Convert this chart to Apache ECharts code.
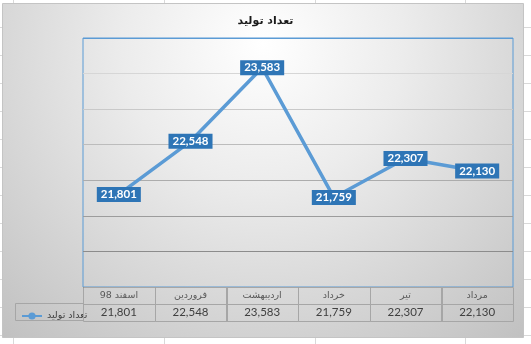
<!DOCTYPE html>
<html>
<head>
<meta charset="utf-8">
<script src="https://cdn.jsdelivr.net/npm/echarts@6/dist/echarts.min.js"></script>
<style>
html,body{margin:0;padding:0;background:#ffffff;}
#c{width:531px;height:344px;}
</style>
</head>
<body>
<div id="c"></div>
<script>
const chartTitle = 'تعداد تولید';
const seriesName = 'تعداد تولید';
const categories = ['اسفند 98', 'فروردین', 'اردیبهشت', 'خرداد', 'تیر', 'مرداد'];
const values = [21801, 22548, 23583, 21759, 22307, 22130];

const fmt = v => v.toLocaleString('en-US');
const numFont = 'Lato, "DejaVu Sans", sans-serif';
const arFont = '"DejaVu Sans", sans-serif';

// spreadsheet background lines (decorative)
const sheetLines = [];
[13, 164, 315, 465].forEach(x => sheetLines.push({type:'line', z:-20, shape:{x1:x+0.5,y1:0,x2:x+0.5,y2:344}, style:{stroke:'#d9d9d9', lineWidth:1}}));
for (let y = 27; y < 344; y += 28) sheetLines.push({type:'line', z:-20, shape:{x1:0,y1:y+0.5,x2:531,y2:y+0.5}, style:{stroke:'#d9d9d9', lineWidth:1}});

const chart = echarts.init(document.getElementById('c'), null, {renderer:'canvas'});
chart.setOption({
  animation: false,
  backgroundColor: 'transparent',
  title: {
    text: chartTitle, left: 'center', top: 11,
    textStyle: {fontFamily: arFont, fontSize: 11, fontWeight: 'bold', color: '#1a1a1a'}
  },
  legend: {
    left: 16, top: 306, itemWidth: 20, itemHeight: 9, itemGap: 4,
    data: [seriesName],
    textStyle: {fontFamily: arFont, fontSize: 9.5, color: '#404040'}
  },
  graphic: sheetLines.concat([
    {type:'rect', z:-10, shape:{x:2.5, y:3.5, width:521, height:334},
     style:{stroke:'#c4c4c4', lineWidth:1,
       fill:{type:'radial', x:0.5, y:0.12, r:1.2, colorStops:[
         {offset:0, color:'#ffffff'}, {offset:0.35, color:'#ececec'}, {offset:1, color:'#bfbfbf'}]}}},
    {type:'rect', z:5, shape:{x:15.5, y:303.5, width:68, height:17},
     style:{fill:'none', stroke:'#a6a6a6', lineWidth:1}}
  ]),
  grid: [
    {left: 83, top: 38, width: 430, height: 249, show: true, borderColor: '#5b9bd5', borderWidth: 1, backgroundColor: 'transparent'},
    {left: 83, top: 287, width: 430, height: 33}
  ],
  xAxis: [
    {type:'category', gridIndex:0, data: categories, boundaryGap: true,
     axisLine:{show:false}, axisTick:{show:false}, axisLabel:{show:false}, splitLine:{show:false}},
    {type:'category', gridIndex:1, data: categories, boundaryGap: true,
     axisLine:{show:false}, axisTick:{show:false}, axisLabel:{show:false}, splitLine:{show:false}}
  ],
  yAxis: [
    {type:'value', gridIndex:0, min: 20500, max: 24000, interval: 500,
     axisLine:{show:false}, axisTick:{show:false}, axisLabel:{show:false},
     splitLine:{show:true, lineStyle:{width:1, color:['#595959','#8c8c8c','#9c9c9c','#acacac','#bcbcbc','#c9c9c9','#d6d6d6','#5b9bd5']}}},
    {type:'category', gridIndex:1, data:['h','v'], inverse: true,
     axisLine:{show:false}, axisTick:{show:false}, axisLabel:{show:false}, splitLine:{show:false}}
  ],
  series: [
    {
      name: seriesName, type: 'line', xAxisIndex: 0, yAxisIndex: 0,
      data: values, z: 3,
      color: '#5b9bd5',
      lineStyle: {color:'#5b9bd5', width: 3.5},
      symbol: 'circle', symbolSize: 9,
      itemStyle: {color:'#5b9bd5'},
      label: {
        show: true, position: 'inside',
        formatter: p => fmt(p.value),
        backgroundColor: '#2e75b6', color: '#ffffff',
        fontFamily: numFont, fontWeight: 'bold', fontSize: 11.5,
        padding: [2, 4, 1, 4], lineHeight: 12
      }
    },
    {
      type: 'custom', xAxisIndex: 1, yAxisIndex: 1, z: 4,
      data: categories.map((c, i) => [i, 0]).concat(values.map((v, i) => [i, 1])),
      renderItem: function (params, api) {
        const i = api.value(0), row = api.value(1);
        const c = api.coord([i, row]);
        const s = api.size([1, 1]);
        const x0 = Math.round(c[0] - s[0] / 2) + 0.5, y0 = Math.round(c[1] - s[1] / 2) + 0.5;
        const txt = row === 0 ? categories[i] : fmt(values[i]);
        return {
          type: 'group',
          children: [
            {type:'rect', shape:{x:x0, y:y0, width:Math.round(s[0]), height:Math.round(s[1])},
             style:{fill:'none', stroke:'#a6a6a6', lineWidth:1}},
            {type:'text', style:{text: txt, x: c[0], y: c[1] + 0.5, align:'center', verticalAlign:'middle',
              font: row === 0 ? ('9.5px ' + arFont) : ('11.5px ' + numFont),
              fill: row === 0 ? '#595959' : '#404040'}}
          ]
        };
      }
    }
  ]
});
</script>
</body>
</html>
